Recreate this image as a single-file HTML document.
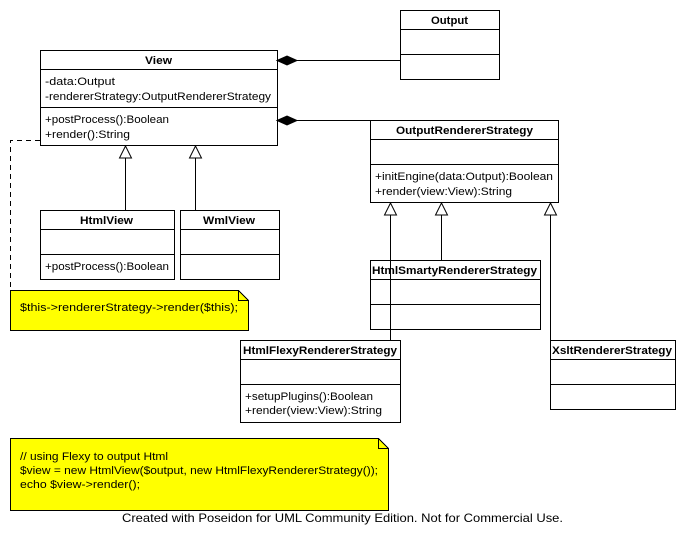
<!DOCTYPE html>
<html><head><meta charset="utf-8"><style>
html,body{margin:0;padding:0;background:#fff;}
svg{display:block;}
text{font-family:"Liberation Sans","DejaVu Sans",sans-serif;font-size:11px;fill:#000;}
.b{font-weight:bold;font-size:11px;}
</style></head><body>
<svg width="686" height="541" viewBox="0 0 686 541" xmlns="http://www.w3.org/2000/svg">
<g fill="#fff" stroke="#000" stroke-width="1" shape-rendering="crispEdges">
<rect x="400.5" y="10.5" width="99" height="69"/>
<line x1="400" y1="29.5" x2="500" y2="29.5"/><line x1="400" y1="54.5" x2="500" y2="54.5"/>
<rect x="40.5" y="50.5" width="237" height="95"/>
<line x1="40" y1="69.5" x2="278" y2="69.5"/><line x1="40" y1="107.5" x2="278" y2="107.5"/>
<rect x="370.5" y="120.5" width="188" height="82"/>
<line x1="370" y1="139.5" x2="559" y2="139.5"/><line x1="370" y1="164.5" x2="559" y2="164.5"/>
<rect x="40.5" y="210.5" width="134" height="69"/>
<line x1="40" y1="229.5" x2="175" y2="229.5"/><line x1="40" y1="254.5" x2="175" y2="254.5"/>
<rect x="180.5" y="210.5" width="99" height="69"/>
<line x1="180" y1="229.5" x2="280" y2="229.5"/><line x1="180" y1="254.5" x2="280" y2="254.5"/>
<rect x="370.5" y="260.5" width="170" height="69"/>
<line x1="370" y1="279.5" x2="541" y2="279.5"/><line x1="370" y1="304.5" x2="541" y2="304.5"/>
<rect x="240.5" y="340.5" width="160" height="82"/>
<line x1="240" y1="359.5" x2="401" y2="359.5"/><line x1="240" y1="384.5" x2="401" y2="384.5"/>
<rect x="550.5" y="340.5" width="125" height="69"/>
<line x1="550" y1="359.5" x2="676" y2="359.5"/><line x1="550" y1="384.5" x2="676" y2="384.5"/>
</g>
<g stroke="#000" stroke-width="1" shape-rendering="crispEdges">
<path d="M10.5 290.5 H238.5 L248.5 300.5 V330.5 H10.5 Z" fill="#ffff00"/>
<path d="M238.5 290.5 V300.5 H248.5" fill="none"/>
<path d="M10.5 438.5 H378.5 L388.5 448.5 V510.5 H10.5 Z" fill="#ffff00"/>
<path d="M378.5 438.5 V448.5 H388.5" fill="none"/>
</g>
<g stroke="#000" stroke-width="1" fill="none">
<line x1="297" y1="60.5" x2="400" y2="60.5"/>
<line x1="297" y1="120.5" x2="370" y2="120.5"/>
<line x1="125.5" y1="158" x2="125.5" y2="210"/>
<line x1="195.5" y1="158" x2="195.5" y2="210"/>
<line x1="390.5" y1="215" x2="390.5" y2="340"/>
<line x1="441.5" y1="215" x2="441.5" y2="260"/>
<line x1="550.5" y1="215" x2="550.5" y2="340"/>
<path d="M40 140.5 H10.5 V290" stroke-dasharray="5,4"/>
</g>
<g stroke="#000" fill="#000">
<path d="M277 60.5 L287 56 L297 60.5 L287 65 Z"/>
<path d="M277 120.5 L287 116 L297 120.5 L287 125 Z"/>
</g>
<g stroke="#000" fill="#fff">
<path d="M125.5 146 L119.5 158 H131.5 Z"/>
<path d="M195.5 146 L189.5 158 H201.5 Z"/>
<path d="M390.5 203 L384.5 215 H396.5 Z"/>
<path d="M441.5 203 L435.5 215 H447.5 Z"/>
<path d="M550.5 203 L544.5 215 H556.5 Z"/>
</g>
<g lengthAdjust="spacingAndGlyphs">
<text class="b" x="431" y="24" textLength="37" lengthAdjust="spacingAndGlyphs">Output</text>
<text class="b" x="145" y="64" textLength="27" lengthAdjust="spacingAndGlyphs">View</text>
<text x="45" y="85" textLength="70" lengthAdjust="spacingAndGlyphs">-data:Output</text>
<text x="45" y="100" textLength="226" lengthAdjust="spacingAndGlyphs">-rendererStrategy:OutputRendererStrategy</text>
<text x="45" y="123" textLength="124" lengthAdjust="spacingAndGlyphs">+postProcess():Boolean</text>
<text x="45" y="138" textLength="85" lengthAdjust="spacingAndGlyphs">+render():String</text>
<text class="b" x="396" y="134" textLength="137" lengthAdjust="spacingAndGlyphs">OutputRendererStrategy</text>
<text x="375" y="180" textLength="178" lengthAdjust="spacingAndGlyphs">+initEngine(data:Output):Boolean</text>
<text x="375" y="195" textLength="137" lengthAdjust="spacingAndGlyphs">+render(view:View):String</text>
<text class="b" x="80" y="224" textLength="53" lengthAdjust="spacingAndGlyphs">HtmlView</text>
<text x="45" y="270" textLength="124" lengthAdjust="spacingAndGlyphs">+postProcess():Boolean</text>
<text class="b" x="203" y="224" textLength="52" lengthAdjust="spacingAndGlyphs">WmlView</text>
<text class="b" x="372" y="274" textLength="165" lengthAdjust="spacingAndGlyphs">HtmlSmartyRendererStrategy</text>
<text class="b" x="243" y="354" textLength="154" lengthAdjust="spacingAndGlyphs">HtmlFlexyRendererStrategy</text>
<text x="245" y="400" textLength="128" lengthAdjust="spacingAndGlyphs">+setupPlugins():Boolean</text>
<text x="245" y="414" textLength="137" lengthAdjust="spacingAndGlyphs">+render(view:View):String</text>
<text class="b" x="552" y="354" textLength="120" lengthAdjust="spacingAndGlyphs">XsltRendererStrategy</text>
<text x="20" y="311" textLength="218" lengthAdjust="spacingAndGlyphs">$this-&gt;rendererStrategy-&gt;render($this);</text>
<text x="20" y="460" textLength="148" lengthAdjust="spacingAndGlyphs">// using Flexy to output Html</text>
<text x="20" y="474" textLength="358" lengthAdjust="spacingAndGlyphs">$view = new HtmlView($output, new HtmlFlexyRendererStrategy());</text>
<text x="20" y="488" textLength="120" lengthAdjust="spacingAndGlyphs">echo $view-&gt;render();</text>
<text x="122" y="522" textLength="441" lengthAdjust="spacingAndGlyphs" style="font-size:12px">Created with Poseidon for UML Community Edition. Not for Commercial Use.</text>
</g>
</svg>
</body></html>
